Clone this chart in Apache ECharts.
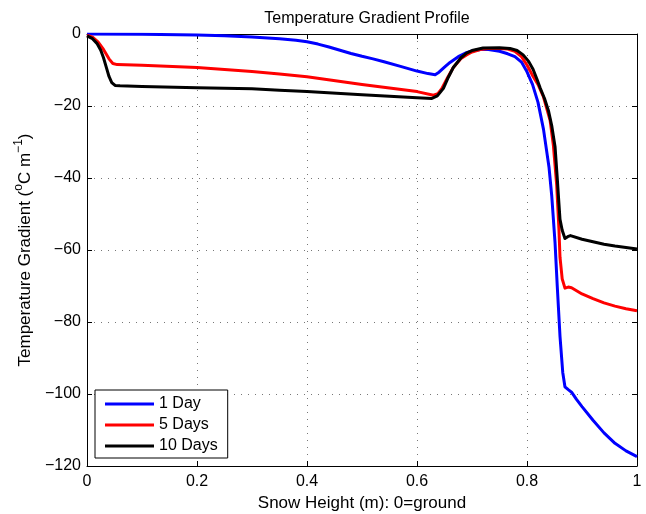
<!DOCTYPE html>
<html>
<head>
<meta charset="utf-8">
<script src="https://cdn.jsdelivr.net/npm/echarts@6/dist/echarts.min.js"></script>
<style>
  html, body { margin: 0; padding: 0; background: #fff; }
  #chart { width: 646px; height: 514px; }
</style>
</head>
<body>
<div id="chart"></div>
<script>
// Temperature gradient through the snowpack after 1, 5 and 10 days
const seriesNames = ['1 Day', '5 Days', '10 Days'];
const seriesColors = ['#0000ff', '#ff0000', '#000000'];

const day1X = [0, 0.1, 0.2, 0.25, 0.3, 0.35, 0.38, 0.4, 0.42, 0.44, 0.46, 0.48, 0.5, 0.52, 0.54, 0.57, 0.6, 0.62, 0.633, 0.64, 0.65, 0.66, 0.675, 0.69, 0.7, 0.715, 0.73, 0.75, 0.765, 0.778, 0.79, 0.8, 0.81, 0.82, 0.83, 0.84, 0.845, 0.851, 0.855, 0.86, 0.865, 0.869, 0.875, 0.881, 0.89, 0.9, 0.92, 0.94, 0.96, 0.98, 1.0];
const day1Y = [0, -0.05, -0.3, -0.5, -0.8, -1.3, -1.75, -2.15, -2.8, -3.6, -4.5, -5.4, -6.2, -6.9, -7.7, -9.0, -10.3, -11.0, -11.3, -10.6, -9.2, -7.9, -6.3, -5.2, -4.7, -4.3, -4.3, -4.8, -5.5, -6.3, -7.8, -10.5, -14, -19, -26.5, -37, -45, -58, -70, -84, -94, -98, -98.8, -99.5, -101.5, -103.5, -107.3, -110.8, -113.7, -115.8, -117.4];

const day5X = [0, 0.01, 0.02, 0.03, 0.04, 0.047, 0.055, 0.1, 0.2, 0.3, 0.35, 0.4, 0.5, 0.6, 0.63, 0.638, 0.645, 0.655, 0.666, 0.68, 0.69, 0.7, 0.715, 0.73, 0.751, 0.765, 0.778, 0.79, 0.8, 0.81, 0.82, 0.83, 0.842, 0.848, 0.854, 0.858, 0.86, 0.864, 0.869, 0.875, 0.881, 0.9, 0.92, 0.94, 0.96, 0.98, 1.0];
const day5Y = [-0.3, -0.9, -2.2, -4.3, -6.9, -8.2, -8.5, -8.7, -9.3, -10.4, -11.1, -11.9, -14, -16, -17.0, -16.6, -15.2, -12.3, -9.3, -6.8, -5.8, -5.0, -4.3, -4.0, -4.0, -4.2, -4.8, -6.3, -8.6, -11.5, -14, -17.5, -24, -31, -42, -54, -62, -68, -70.6, -70.3, -70.5, -72.2, -73.5, -74.7, -75.6, -76.3, -76.9];

const day10X = [0, 0.01, 0.018, 0.025, 0.03, 0.035, 0.04, 0.045, 0.051, 0.06, 0.1, 0.2, 0.3, 0.35, 0.4, 0.5, 0.6, 0.627, 0.637, 0.648, 0.657, 0.666, 0.68, 0.69, 0.7, 0.72, 0.75, 0.769, 0.782, 0.793, 0.803, 0.811, 0.818, 0.824, 0.832, 0.839, 0.845, 0.851, 0.855, 0.858, 0.86, 0.864, 0.869, 0.874, 0.879, 0.9, 0.92, 0.94, 0.96, 0.98, 1.0];
const day10Y = [-0.5, -1.3, -2.6, -4.5, -6.6, -9.2, -11.8, -13.5, -14.3, -14.4, -14.6, -14.9, -15.2, -15.6, -16.0, -16.9, -17.7, -17.9, -17.2, -15.1, -12.0, -9.3, -6.6, -5.3, -4.6, -3.9, -3.8, -4.0, -4.6, -5.8, -7.6, -9.8, -12.5, -15, -18, -21.3, -25.5, -31.3, -40, -47, -51.5, -54.5, -56.8, -56.3, -56, -57, -57.7, -58.4, -58.9, -59.3, -59.7];

const xTicks = { min: 0, max: 1, interval: 0.2 };
const yTicks = { min: -120, max: 0, interval: 20 };

const pairs = (xs, ys) => xs.map((x, i) => [x, ys[i]]);
const seriesData = [pairs(day1X, day1Y), pairs(day5X, day5Y), pairs(day10X, day10Y)];

const FONT = 'Liberation Sans, Arial, sans-serif';
const minus = v => (v < 0 ? '\u2212' + (-v) : String(v));

const chart = echarts.init(document.getElementById('chart'), null, { renderer: 'canvas' });

const gridDots = { show: true, lineStyle: { color: '#777', width: 1, type: [1, 6] } };
const frameLine = { show: true, onZero: false, lineStyle: { color: '#000', width: 1 } };
const innerTicks = { show: true, inside: true, length: 5, lineStyle: { color: '#000' } };

chart.setOption({
  animation: false,
  backgroundColor: '#fff',
  title: {
    text: 'Temperature Gradient Profile',
    left: 362, top: 6, textAlign: 'center',
    textStyle: { fontFamily: FONT, fontSize: 16, fontWeight: 'normal', color: '#000' }
  },
  grid: { left: 87, right: 9, top: 34, bottom: 48, containLabel: false, outerBoundsMode: 'none' },
  legend: {
    data: seriesNames,
    orient: 'vertical',
    left: 95, top: 390,
    padding: [6, 10, 4, 10],
    itemGap: 5,
    itemWidth: 49, itemHeight: 3,
    icon: 'rect',
    borderColor: '#000', borderWidth: 1,
    backgroundColor: '#fff',
    textStyle: { fontFamily: FONT, fontSize: 16, color: '#000' }
  },
  xAxis: [{
    type: 'value', position: 'bottom',
    min: xTicks.min, max: xTicks.max, interval: xTicks.interval,
    name: 'Snow Height (m): 0=ground', nameLocation: 'middle', nameGap: 23,
    nameTextStyle: { fontFamily: FONT, fontSize: 17, color: '#000' },
    axisLine: frameLine, axisTick: innerTicks,
    axisLabel: { fontFamily: FONT, fontSize: 16, color: '#000', margin: 8 },
    splitLine: gridDots
  }, {
    type: 'value', position: 'top',
    min: xTicks.min, max: xTicks.max, interval: xTicks.interval,
    axisLine: frameLine, axisTick: innerTicks,
    axisLabel: { show: false }, splitLine: { show: false }
  }],
  yAxis: [{
    type: 'value', position: 'left',
    min: yTicks.min, max: yTicks.max, interval: yTicks.interval,
    name: '{a|Temperature Gradient (}{s|o}{a|C m}{s|\u22121}{a|)}',
    nameLocation: 'middle', nameGap: 49, nameRotate: 90,
    nameTextStyle: {
      fontFamily: FONT, fontSize: 17, color: '#000',
      rich: {
        a: { fontFamily: FONT, fontSize: 17, color: '#000', lineHeight: 21, verticalAlign: 'bottom' },
        s: { fontFamily: FONT, fontSize: 12, color: '#000', lineHeight: 21, verticalAlign: 'top' }
      }
    },
    axisLine: frameLine, axisTick: innerTicks,
    axisLabel: { fontFamily: FONT, fontSize: 16, color: '#000', margin: 6, formatter: minus },
    splitLine: gridDots
  }, {
    type: 'value', position: 'right',
    min: yTicks.min, max: yTicks.max, interval: yTicks.interval,
    axisLine: frameLine, axisTick: innerTicks,
    axisLabel: { show: false }, splitLine: { show: false }
  }],
  series: seriesNames.map((name, i) => ({
    name,
    type: 'line',
    xAxisIndex: 0, yAxisIndex: 0,
    data: seriesData[i],
    showSymbol: false,
    symbol: 'none',
    color: seriesColors[i],
    lineStyle: { color: seriesColors[i], width: 3, join: 'round' },
    z: 3 + i
  }))
});
</script>
</body>
</html>
